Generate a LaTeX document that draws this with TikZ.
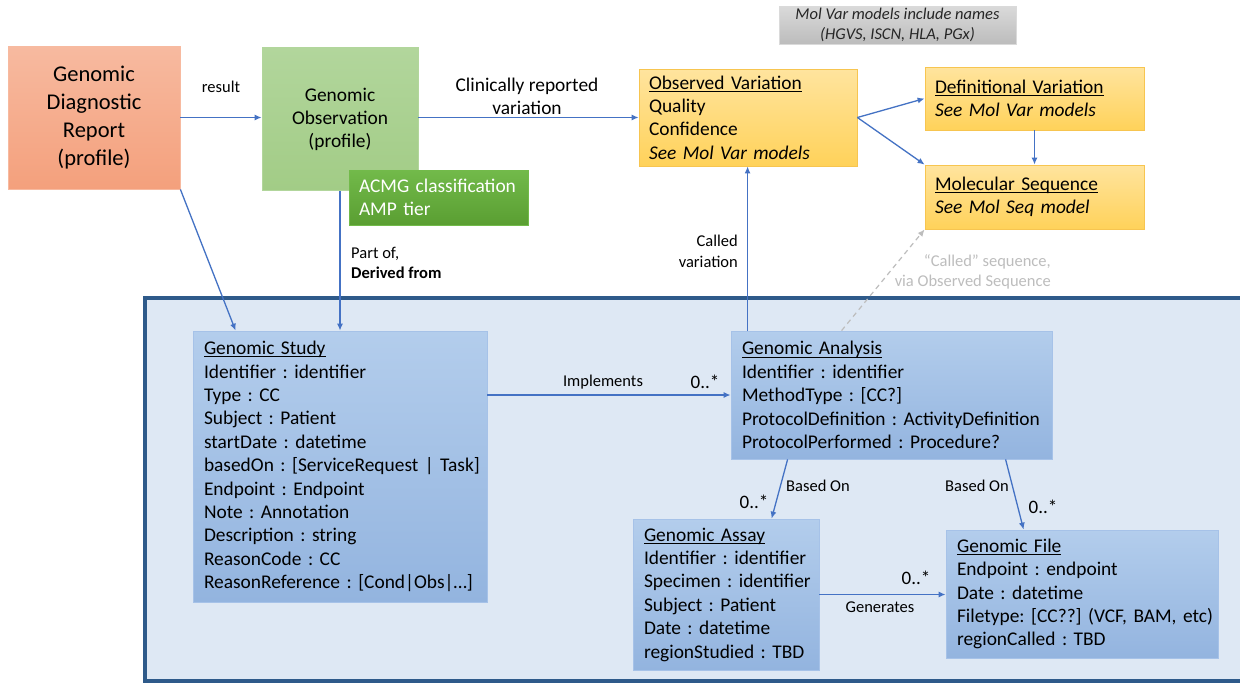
\documentclass[tikz,border=0pt]{standalone}
\usepackage{fontspec}
\setmainfont{Carlito}
\usetikzlibrary{arrows.meta,calc,shadings}

\definecolor{linkblue}{HTML}{4472C4}
\definecolor{panelfill}{HTML}{DEE8F4}
\definecolor{panelrule}{HTML}{2E5A8A}
\definecolor{classtop}{HTML}{B3CDEC}
\definecolor{classbot}{HTML}{93B4DF}
\definecolor{classrule}{HTML}{A6C2E8}
\definecolor{reporttop}{HTML}{F7BAA0}
\definecolor{reportbot}{HTML}{F4A07C}
\definecolor{obstop}{HTML}{B2D69C}
\definecolor{obsbot}{HTML}{A2CC86}
\definecolor{acmgtop}{HTML}{72BA4A}
\definecolor{acmgbot}{HTML}{5A9E32}
\definecolor{yeltop}{HTML}{FFE49E}
\definecolor{yelbot}{HTML}{FFD25A}
\definecolor{yelrule}{HTML}{F7C550}
\definecolor{notetop}{HTML}{DADADA}
\definecolor{notebot}{HTML}{BCBCBC}
\definecolor{softgray}{HTML}{BDBDBD}

% underline sitting just under the baseline
\newcommand{\ulbox}[1]{\setbox0\hbox{#1}\rlap{\rule[-2.6pt]{\wd0}{0.9pt}}\box0}

\tikzset{
  conn/.style={draw=linkblue, line width=1.3pt, -{Latex[length=7pt,width=6pt]}},
  ghostconn/.style={draw=softgray, line width=1.2pt, dashed, dash pattern=on 5pt off 4pt, -{Latex[length=7pt,width=6pt]}},
  basebox/.style={rectangle, inner ysep=0pt, line width=0.8pt},
  classbox/.style={basebox, draw=classrule, top color=classtop, bottom color=classbot,
    align=left, inner xsep=11pt, font=\fontsize{19.4}{23.4}\selectfont},
  yelbox/.style={basebox, draw=yelrule, top color=yeltop, bottom color=yelbot,
    align=left, inner xsep=10pt, font=\fontsize{19.4}{23.4}\selectfont},
  lbl/.style={inner sep=0pt, font=\fontsize{16.5}{20.5}\selectfont},
  mult/.style={inner sep=0pt, font=\fontsize{19}{22}\selectfont},
}

\begin{document}
\frenchspacing
\begin{tikzpicture}[x=1pt, y=-1pt]
  \useasboundingbox (0,0) rectangle (1240,683);
  \fill[white] (0,0) rectangle (1240,683);

  % study package panel
  \draw[panelrule, line width=3.5pt, fill=panelfill] (145,298) rectangle (1260,681);

  % upper row
  \node[basebox, draw=reporttop, top color=reporttop, bottom color=reportbot,
        minimum width=172pt, minimum height=143pt, align=center,
        font=\fontsize{22.5}{27.8}\selectfont] (report) at (94,117.5)
        {Genomic\\Diagnostic\\Report\\(profile)};
  \node[basebox, draw=obstop, top color=obstop, bottom color=obsbot,
        minimum width=156pt, minimum height=143pt, align=center,
        font=\fontsize{19.4}{23}\selectfont] (obs) at (340,119)
        {Genomic\\Observation\\(profile)};
  \node[basebox, draw=acmgtop, top color=acmgtop, bottom color=acmgbot,
        text width=159pt, inner xsep=10pt, minimum height=55pt, align=left,
        text=white, font=\fontsize{19.4}{23}\selectfont] (acmg) at (438.5,197.5)
        {\mbox{ACMG classification}\\AMP tier};

  \node[basebox, draw=notetop, top color=notetop, bottom color=notebot,
        minimum width=237pt, minimum height=38pt, align=center,
        text=black!85, font=\itshape\fontsize{16.5}{20}\selectfont] (note) at (897.5,25)
        {Mol Var models include names\\(HGVS, ISCN, HLA, PGx)};

  \node[yelbox, text width=198pt, minimum height=97pt] (ov) at (748,117.5)
        {\ulbox{Observed Variation}\\Quality\\Confidence\\\textit{See Mol Var models}};
  \node[yelbox, text width=199pt, minimum height=63pt] (dv) at (1034.5,98.5)
        {\ulbox{Definitional Variation}\\\textit{See Mol Var models}};
  \node[yelbox, text width=199pt, minimum height=64pt] (ms) at (1034.5,197)
        {\ulbox{Molecular Sequence}\\\textit{See Mol Seq model}};

  % classes inside the panel
  \node[classbox, text width=272pt, minimum height=271pt] (study) at (340,466.5)
        {\ulbox{Genomic Study}\\
         \mbox{Identifier : identifier}\\
         Type : CC\\
         \mbox{Subject : Patient}\\
         \mbox{startDate : datetime}\\
         \mbox{basedOn : [ServiceRequest | Task]}\\
         \mbox{Endpoint : Endpoint}\\
         \mbox{Note : Annotation}\\
         \mbox{Description : string}\\
         \mbox{ReasonCode : CC}\\
         \mbox{ReasonReference : [Cond|Obs|\ldots]}};
  \node[classbox, text width=299pt, minimum height=128pt] (ga) at (891.5,395)
        {\ulbox{Genomic Analysis}\\
         \mbox{Identifier : identifier}\\
         \mbox{MethodType : [CC?]}\\
         \mbox{ProtocolDefinition : ActivityDefinition}\\
         \mbox{ProtocolPerformed : Procedure?}};
  \node[classbox, text width=164pt, minimum height=151pt] (assay) at (726,594.5)
        {\ulbox{Genomic Assay}\\
         \mbox{Identifier : identifier}\\
         \mbox{Specimen : identifier}\\
         \mbox{Subject : Patient}\\
         \mbox{Date : datetime}\\
         \mbox{regionStudied : TBD}};
  \node[classbox, text width=250pt, minimum height=128pt] (file) at (1082,594)
        {\ulbox{Genomic File}\\
         \mbox{Endpoint : endpoint}\\
         \mbox{Date : datetime}\\
         \mbox{Filetype: [CC??] (VCF, BAM, etc)}\\
         \mbox{regionCalled : TBD}};

  % connectors
  \draw[conn] (report.east) -- (report.east -| obs.west);
  \draw[conn] (obs.east |- ov.west) -- (ov.west);
  \draw[conn] (ov.east) -- (dv.west);
  \draw[conn] (ov.east) -- (ms.north west);
  \draw[conn] (dv.south) -- (ms.north);
  \draw[conn] (report.south east) -- ([xshift=43pt]study.north west);
  \draw[conn] (obs.south) -- (obs.south |- study.north);
  \draw[conn] ([xshift=17pt]ga.north west) -- ([xshift=17pt]ga.north west |- ov.south);
  \draw[ghostconn] ([xshift=111pt]ga.north west) -- (ms.south west);
  \draw[conn] (study.east |- ga.west) -- (ga.west);
  \draw[conn] ([xshift=57pt]ga.south west) -- ([xshift=139pt]assay.north west);
  \draw[conn] ([xshift=275pt]ga.south west) -- ([xshift=78pt]file.north west);
  \draw[conn] (assay.east) -- (assay.east -| file.west);

  % connector labels
  \node[lbl] (lresult) at (221,87) {result};
  \node[inner sep=0pt, align=center, font=\fontsize{19.4}{23}\selectfont] (lclin) at (527,96.5)
        {Clinically reported\\variation};
  \node[lbl, anchor=west, align=left, font=\fontsize{16.5}{20}\selectfont] (lpart) at (351,263)
        {Part of,\\\textbf{Derived from}};
  \node[lbl, anchor=east, align=right, font=\fontsize{16.5}{21}\selectfont] (lcalled) at (738,251.5)
        {Called\\variation};
  \node[lbl, anchor=east, align=right, text=softgray] (lseq) at (1051,272)
        {“Called” sequence,\\via Observed Sequence};
  \node[lbl] (limpl) at (603,382) {Implements};
  \node[mult] (mimpl) at (705,382) {0..*};
  \node[lbl] (lbasedA) at (818,486) {Based On};
  \node[mult] (mbasedA) at (754,502) {0..*};
  \node[lbl] (lbasedF) at (977,486) {Based On};
  \node[mult] (mbasedF) at (1043,507) {0..*};
  \node[mult] (mgen) at (916,578) {0..*};
  \node[lbl] (lgen) at (880,607) {Generates};
\end{tikzpicture}
\end{document}
